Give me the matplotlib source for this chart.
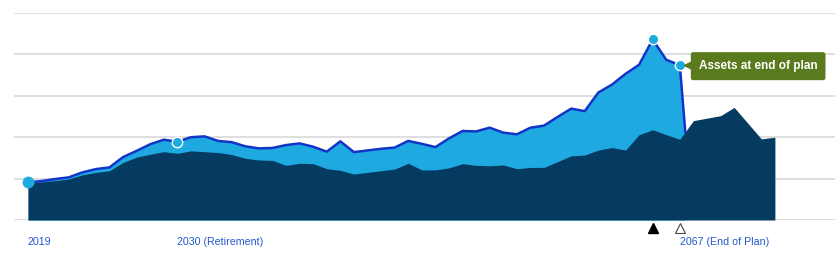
import numpy as np
import matplotlib
matplotlib.use("Agg")
import matplotlib.pyplot as plt
from matplotlib import transforms

# ---- data (values in grid units; one gridline = 1) ----
years = list(range(2019, 2075))
total_assets = [0.91, 0.94, 0.99, 1.03, 1.15, 1.23, 1.27, 1.52, 1.67, 1.83,
                1.94, 1.89, 2.00, 2.02, 1.91, 1.88, 1.78, 1.73, 1.74, 1.81,
                1.85, 1.77, 1.65, 1.90, 1.64, 1.68, 1.72, 1.75, 1.91, 1.84,
                1.76, 1.97, 2.15, 2.14, 2.23, 2.11, 2.07, 2.23, 2.28, 2.49,
                2.69, 2.63, 3.08, 3.27, 3.53, 3.75, 4.36, 3.87, 3.74]   # 2019..2067
base_assets = [0.89, 0.92, 0.95, 0.99, 1.09, 1.15, 1.19, 1.39, 1.52, 1.59,
               1.65, 1.61, 1.67, 1.65, 1.63, 1.58, 1.49, 1.45, 1.44, 1.32,
               1.37, 1.36, 1.24, 1.20, 1.11, 1.15, 1.19, 1.23, 1.37, 1.21,
               1.21, 1.26, 1.36, 1.32, 1.31, 1.33, 1.24, 1.27, 1.27, 1.41,
               1.55, 1.57, 1.69, 1.75, 1.69, 2.06, 2.18, 2.06, 1.95, 2.40,
               2.46, 2.52, 2.72, 2.34, 1.96, 2.00]                     # 2019..2074
end_drop_year = 2067.4
marker_years = [2019, 2030, 2065, 2067]
tick_years = [2019, 2030, 2067]
tick_labels = ["2019", "2030 (Retirement)", "2067 (End of Plan)"]
triangle_filled_year = 2065
triangle_open_year = 2067
annotation_text = "Assets at end of plan"

# ---- colors ----
LIGHT = "#1fa9e1"
DARK = "#053b60"
LINE = "#1235c8"
GRID = "#d9d9d9"
LABEL = "#2357cc"
GREEN = "#5a7a1e"

W, H = 835, 260
fig = plt.figure(figsize=(W / 100, H / 100), dpi=100)
px_per_year = 13.58
x_left_px, x0_px = 14, 28
xmin = 2019 - (x0_px - x_left_px) / px_per_year
xmax = 2019 + (W - x0_px) / px_per_year
ax = fig.add_axes([x_left_px / W, 1 - 220 / H, (W - x_left_px) / W, (220 - 13) / H])
ax.set_xlim(xmin, xmax)
ax.set_ylim(0, 5)
for s in ax.spines.values():
    s.set_visible(False)
ax.set_xticks([])
ax.set_yticks([])
for g in range(0, 6):
    ax.axhline(g, color=GRID, lw=1.2, zorder=0)

ty = np.array(years[:len(total_assets)], dtype=float)
tv = np.array(total_assets)
drop_val = np.interp(end_drop_year, years, base_assets)
ty_full = np.append(ty, end_drop_year)
tv_full = np.append(tv, drop_val)

ax.fill_between(ty_full, 0, tv_full, color=LIGHT, lw=0, zorder=1)
ax.fill_between(years, 0, base_assets, color=DARK, lw=0, zorder=2)
ax.plot(ty_full, tv_full, color=LINE, lw=1.8, zorder=3, solid_joinstyle="round")

# markers
for i, yr in enumerate(marker_years):
    v = total_assets[yr - 2019]
    ax.plot([yr], [v], "o", ms=7.5, mfc=LIGHT,
            mec=(LIGHT if i == 0 else "white"), mew=1.0, zorder=5, clip_on=False)

# x labels
for yr, lab in zip(tick_years, tick_labels):
    ax.text(yr, -0.52, lab, ha="left", va="center", fontsize=7.7,
            color=LABEL, family="Liberation Sans", clip_on=False)

# triangles under axis
ax.plot([triangle_filled_year], [-0.2], marker="^", ms=6.8, color="black",
        clip_on=False, zorder=5)
ax.plot([triangle_open_year], [-0.2], marker="^", ms=6.8, mfc="white",
        mec="#444444", mew=0.8, clip_on=False, zorder=5)

# annotation
end_val = total_assets[triangle_open_year - 2019]
ax.annotate(annotation_text, xy=(triangle_open_year, end_val), xytext=(19, -1),
            textcoords="offset pixels", ha="left", va="center",
            fontsize=8.5, fontweight="bold", color="white",
            family="Liberation Sans", zorder=6,
            bbox=dict(boxstyle="round,pad=0.62,rounding_size=0.15",
                      fc=GREEN, ec=GREEN))
tr = transforms.offset_copy(ax.transData, fig=fig, x=9, y=0, units="dots")
ax.plot([triangle_open_year], [end_val], marker="<", ms=7, color=GREEN,
        transform=tr, zorder=6, clip_on=False)

fig.savefig("out.png", dpi=100)
